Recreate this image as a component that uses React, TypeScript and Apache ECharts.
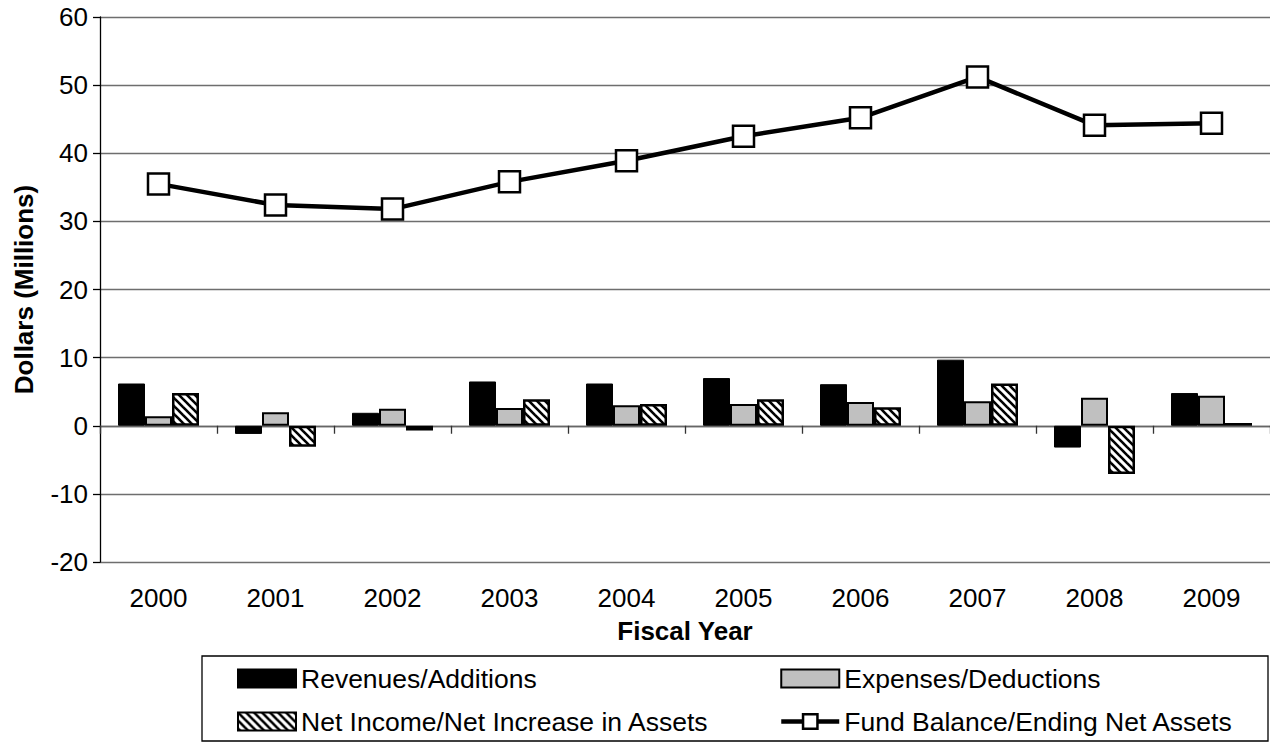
import React, { useEffect, useRef } from "react";
import * as echarts from "echarts";

const years = ["2000", "2001", "2002", "2003", "2004", "2005", "2006", "2007", "2008", "2009"];
const revenues = [6.2, -1.2, 1.9, 6.5, 6.2, 7.0, 6.1, 9.7, -3.2, 4.8];
const expenses = [1.4, 2.0, 2.5, 2.6, 3.0, 3.2, 3.5, 3.6, 4.1, 4.4];
const netIncome = [4.8, -3.1, -0.7, 3.9, 3.2, 3.9, 2.7, 6.2, -7.1, 0.4];
const fundBalance = [35.5, 32.4, 31.8, 35.8, 38.9, 42.5, 45.2, 51.2, 44.1, 44.4];

const FONT = "Liberation Sans, Arial, sans-serif";

function makeHatch() {
  const size = 8;
  const c = document.createElement("canvas");
  c.width = size;
  c.height = size;
  const ctx = c.getContext("2d")!;
  ctx.fillStyle = "#fff";
  ctx.fillRect(0, 0, size, size);
  ctx.strokeStyle = "#000";
  ctx.lineWidth = 2.6;
  ctx.lineCap = "square";
  for (const k of [-size, 0, size]) {
    ctx.beginPath();
    ctx.moveTo(k, 0);
    ctx.lineTo(k + size, size);
    ctx.stroke();
  }
  return c;
}

export default function App() {
  const ref = useRef<HTMLDivElement>(null);
  useEffect(() => {
    document.body.style.margin = "0";
    const chart = echarts.init(ref.current!, null, { renderer: "svg" });
    const hatch = makeHatch();
    const legendText = { fontFamily: FONT, fontSize: 26.5, color: "#000" };
    const legendCommon = {
      orient: "vertical",
      top: 665,
      padding: 0,
      itemWidth: 58,
      itemHeight: 18,
      itemGap: 16,
      textStyle: legendText,
    };
    chart.setOption({
      animation: false,
      backgroundColor: "#fff",
      textStyle: { fontFamily: FONT },
      grid: { left: 100, right: -5, top: 17, bottom: 182, containLabel: false },
      xAxis: [
        {
          type: "category",
          data: years,
          position: "bottom",
          axisLine: { show: false, onZero: false },
          axisTick: { show: false },
          axisLabel: { fontFamily: FONT, fontSize: 26, color: "#000", margin: 23 },
          name: "Fiscal Year",
          nameLocation: "middle",
          nameGap: 56,
          nameTextStyle: { fontFamily: FONT, fontSize: 26, fontWeight: "bold", color: "#000" },
          splitLine: { show: false },
        },
        {
          type: "category",
          data: years,
          position: "bottom",
          axisLine: { show: true, onZero: true, lineStyle: { color: "#666", width: 1.3 } },
          axisTick: { show: true, length: 8, lineStyle: { color: "#333", width: 1.3 } },
          axisLabel: { show: false },
          splitLine: { show: false },
        },
      ],
      yAxis: {
        type: "value",
        min: -20,
        max: 60,
        interval: 10,
        axisLine: { show: true, lineStyle: { color: "#000", width: 1.3 } },
        axisTick: { show: true, length: 7, lineStyle: { color: "#000", width: 1.3 } },
        axisLabel: { fontFamily: FONT, fontSize: 26, color: "#000", margin: 12 },
        splitLine: { show: true, lineStyle: { color: "#6e6e6e", width: 1.3 } },
        name: "Dollars (Millions)",
        nameLocation: "middle",
        nameGap: 63,
        nameTextStyle: { fontFamily: FONT, fontSize: 26, fontWeight: "bold", color: "#000" },
      },
      legend: [
        {
          ...legendCommon,
          left: 237,
          data: [
            { name: "Revenues/Additions", icon: "rect" },
            { name: "Net Income/Net Increase in Assets", icon: "rect" },
          ],
        },
        {
          ...legendCommon,
          left: 779,
          data: [
            { name: "Expenses/Deductions", icon: "rect" },
            {
              name: "Fund Balance/Ending Net Assets",
              lineStyle: { color: "#000", width: 4.5 },
              itemStyle: { color: "#fff", borderColor: "#000", borderWidth: 2.5 },
            },
          ],
        },
      ],
      graphic: [
        {
          type: "rect",
          shape: { x: 202, y: 656, width: 1066, height: 85 },
          style: { fill: "none", stroke: "#000", lineWidth: 1.3 },
          silent: true,
        },
      ],
      series: [
        {
          name: "Revenues/Additions",
          type: "bar",
          data: revenues,
          barWidth: 27,
          barGap: "0%",
          itemStyle: { color: "#000", borderColor: "#000", borderWidth: 1 },
        },
        {
          name: "Expenses/Deductions",
          type: "bar",
          data: expenses,
          barWidth: 27,
          barGap: "0%",
          itemStyle: { color: "#c0c0c0", borderColor: "#000", borderWidth: 2 },
        },
        {
          name: "Net Income/Net Increase in Assets",
          type: "bar",
          data: netIncome,
          barWidth: 27,
          barGap: "0%",
          itemStyle: {
            color: { image: hatch, repeat: "repeat", imageWidth: 8, imageHeight: 8 },
            borderColor: "#000",
            borderWidth: 2.5,
          },
        },
        {
          name: "Fund Balance/Ending Net Assets",
          type: "line",
          data: fundBalance,
          z: 5,
          symbol: "rect",
          symbolSize: 21,
          lineStyle: { color: "#000", width: 4.5 },
          itemStyle: { color: "#fff", borderColor: "#000", borderWidth: 2.5 },
        },
      ],
    });
    return () => chart.dispose();
  }, []);
  return <div ref={ref} style={{ width: 1270, height: 744 }} />;
}
